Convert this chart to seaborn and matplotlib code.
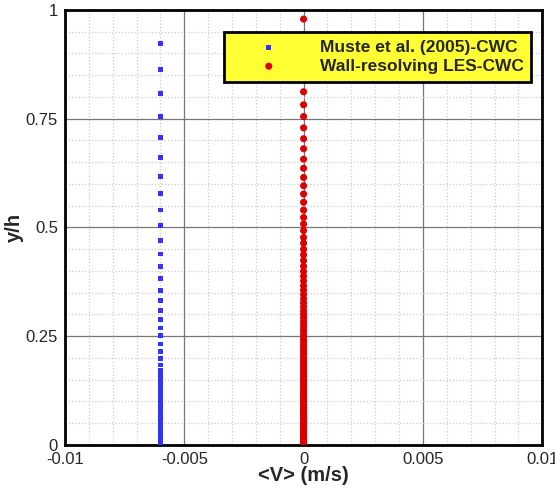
import numpy as np
import pandas as pd
import matplotlib
matplotlib.use("Agg")
import matplotlib.pyplot as plt
import seaborn as sns

# ---- data ----
muste_v = -0.006
muste_y = [0.923, 0.864, 0.808, 0.756, 0.707, 0.661, 0.618, 0.579, 0.540, 0.505,
           0.471, 0.439, 0.410, 0.383, 0.356, 0.333, 0.310, 0.289, 0.269, 0.251,
           0.232, 0.214, 0.199, 0.184, 0.171, 0.159, 0.148, 0.138, 0.128, 0.119,
           0.110, 0.102, 0.094, 0.087, 0.080, 0.073, 0.067, 0.061, 0.056, 0.051,
           0.046, 0.042, 0.038, 0.034, 0.030, 0.027, 0.024, 0.021, 0.018, 0.016,
           0.013, 0.011, 0.009, 0.007, 0.005, 0.003, 0.001]

les_v = 0.0
les_y = [0.979, 0.943, 0.909, 0.875, 0.843, 0.812, 0.782, 0.755, 0.729, 0.704,
         0.681, 0.657, 0.636, 0.615, 0.596, 0.577, 0.558, 0.540, 0.523, 0.508,
         0.493, 0.477, 0.464, 0.450, 0.437, 0.424, 0.411, 0.399, 0.388, 0.377,
         0.366, 0.356, 0.346, 0.336, 0.327, 0.318, 0.309, 0.301, 0.293, 0.285,
         0.277, 0.270, 0.263, 0.256, 0.249, 0.242, 0.236, 0.229, 0.223, 0.217,
         0.211, 0.205, 0.199, 0.193, 0.188, 0.182, 0.177, 0.172, 0.167, 0.162,
         0.157, 0.152, 0.147, 0.142, 0.138, 0.133, 0.129, 0.124, 0.120, 0.116,
         0.112, 0.108, 0.104, 0.100, 0.096, 0.092, 0.088, 0.085, 0.081, 0.078,
         0.074, 0.071, 0.067, 0.064, 0.061, 0.058, 0.055, 0.052, 0.049, 0.046,
         0.043, 0.040, 0.037, 0.034, 0.032, 0.029, 0.026, 0.024, 0.021, 0.019,
         0.016, 0.014, 0.012, 0.010, 0.008, 0.006, 0.004, 0.002, 0.001]

label_muste = "Muste et al. (2005)-CWC"
label_les = "Wall-resolving LES-CWC"

xticks = [-0.01, -0.005, 0, 0.005, 0.01]
xtick_labels = ["-0.01", "-0.005", "0", "0.005", "0.01"]
yticks = [0, 0.25, 0.5, 0.75, 1]
ytick_labels = ["0", "0.25", "0.5", "0.75", "1"]

df_muste = pd.DataFrame({"V": [muste_v] * len(muste_y), "y": muste_y})
df_les = pd.DataFrame({"V": [les_v] * len(les_y), "y": les_y})

sns.set_style("white")
plt.rcParams['font.family'] = ['Liberation Sans', 'DejaVu Sans']

fig = plt.figure(figsize=(5.55, 4.91), dpi=100)
ax = fig.add_axes([0.117, 0.0937, 0.860, 0.886])

# grid
ax.set_xticks(np.arange(-0.01, 0.01001, 0.001), minor=True)
ax.set_yticks(np.arange(0, 1.0001, 0.05), minor=True)
ax.grid(which="minor", color="#cccccc", linestyle=":", linewidth=0.9)
ax.grid(which="major", color="#777777", linestyle="-", linewidth=0.9)
ax.set_axisbelow(True)

sns.scatterplot(data=df_muste, x="V", y="y", ax=ax, marker="s", s=12,
                color="#3333ff", edgecolor="none", linewidth=0, label=label_muste, zorder=3)
sns.scatterplot(data=df_les, x="V", y="y", ax=ax, marker="o", s=26,
                color="#dd0000", edgecolor="none", linewidth=0, label=label_les, zorder=3)

ax.set_xlim(-0.01, 0.01)
ax.set_ylim(0, 1)
ax.set_xticks(xticks)
ax.set_xticklabels(xtick_labels)
ax.set_yticks(yticks)
ax.set_yticklabels(ytick_labels)
ax.tick_params(which="major", direction="in", length=8, width=2, labelsize=12,
               color="black", pad=5)
ax.tick_params(which="minor", direction="in", length=4, width=1, color="black")
for sp in ax.spines.values():
    sp.set_linewidth(2)
    sp.set_color("black")

ax.set_xlabel("<V> (m/s)", fontsize=14.5, fontweight="bold", labelpad=-1)
ax.set_ylabel("y/h", fontsize=14.5, fontweight="bold")
ax.yaxis.set_label_coords(-0.086, 0.5)

leg = ax.legend(loc="upper right", bbox_to_anchor=(0.977, 0.949),
                prop={"weight": "bold", "size": 12.5}, facecolor="#ffff33",
                edgecolor="black", framealpha=1, fancybox=False,
                borderpad=0.45, handlelength=4.25, handletextpad=0.8,
                labelspacing=0.2, borderaxespad=0, markerscale=1.0)
leg.get_frame().set_linewidth(2)

fig.savefig("out.png", dpi=100)
